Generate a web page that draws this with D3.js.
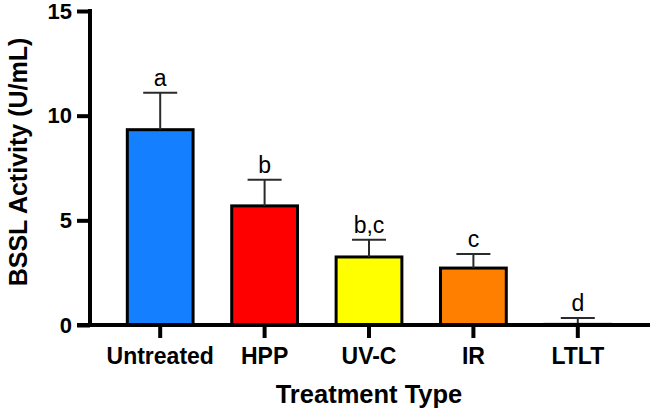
<!DOCTYPE html>
<html><head><meta charset="utf-8">
<script src="https://cdn.jsdelivr.net/npm/d3@7"></script>
<style>
html,body{margin:0;padding:0;background:#fff;}
svg{display:block;font-family:"Liberation Sans",Arial,Helvetica,sans-serif;}
</style></head>
<body>
<svg id="c" width="656" height="414"></svg>
<script>
const categories = ["Untreated", "HPP", "UV-C", "IR", "LTLT"];
const means = [9.33, 5.69, 3.25, 2.72, 0.03];
const errors = [1.77, 1.25, 0.82, 0.67, 0.30];
const letters = ["a", "b", "b,c", "c", "d"];
const colors = ["#1580ff", "#ff0000", "#ffff00", "#ff8000", "#ffffff"];
const yTicks = [0, 5, 10, 15];

const svg = d3.select("#c");
const axisX = 90, baseY = 325, topY = 11;

const y = d3.scaleLinear().domain([0, 15]).range([baseY, topY]);
const x = d3.scaleBand().domain(categories).range([108, 630]).paddingInner(0.37).paddingOuter(0.185);

// bars
const g = svg.append("g");
g.selectAll("rect.bar").data(categories).join("rect")
  .attr("class", "bar")
  .attr("x", d => x(d))
  .attr("width", x.bandwidth())
  .attr("y", (d, i) => y(means[i]))
  .attr("height", (d, i) => y(0) - y(means[i]))
  .attr("fill", (d, i) => colors[i])
  .attr("stroke", "#000")
  .attr("stroke-width", 3);

// error bars
const capW = 34;
categories.forEach((c, i) => {
  const cx = x(c) + x.bandwidth() / 2;
  g.append("line").attr("x1", cx).attr("x2", cx)
    .attr("y1", y(means[i])).attr("y2", y(means[i] + errors[i]))
    .attr("stroke", "#2a2a2a").attr("stroke-width", 2);
  g.append("line").attr("x1", cx - capW / 2).attr("x2", cx + capW / 2)
    .attr("y1", y(means[i] + errors[i])).attr("y2", y(means[i] + errors[i]))
    .attr("stroke", "#2a2a2a").attr("stroke-width", 2);
  g.append("text").attr("x", cx).attr("y", y(means[i] + errors[i]) - 7)
    .attr("text-anchor", "middle").attr("font-size", 23).attr("fill", "#000")
    .text(letters[i]);
});

// y axis
const ya = svg.append("g").attr("transform", `translate(${axisX},0)`)
  .call(d3.axisLeft(y).tickValues(yTicks).tickSize(13).tickSizeOuter(0).tickPadding(5));
ya.select(".domain").attr("stroke", "#000").attr("stroke-width", 4)
  .attr("d", `M0,${topY - 2}V${baseY}`);
ya.selectAll(".tick line").attr("stroke", "#000").attr("stroke-width", 4);
ya.selectAll(".tick text").attr("font-size", 22).attr("font-weight", "bold")
  .attr("fill", "#000").attr("font-family", "Liberation Sans, Arial, sans-serif");

// x axis
const xa = svg.append("g").attr("transform", `translate(0,${baseY})`)
  .call(d3.axisBottom(x).tickSize(13).tickSizeOuter(0).tickPadding(10));
xa.select(".domain").attr("stroke", "#000").attr("stroke-width", 4)
  .attr("d", `M${axisX - 13},0H650`);
xa.selectAll(".tick line").attr("stroke", "#000").attr("stroke-width", 4);
xa.selectAll(".tick text").attr("font-size", 23).attr("font-weight", "bold")
  .attr("fill", "#000").attr("font-family", "Liberation Sans, Arial, sans-serif");

// titles
svg.append("text").attr("x", 369).attr("y", 403).attr("text-anchor", "middle")
  .attr("font-size", 25.5).attr("font-weight", "bold").text("Treatment Type");
svg.append("text").attr("transform", "translate(27,162) rotate(-90)")
  .attr("text-anchor", "middle")
  .attr("font-size", 25).attr("font-weight", "bold").text("BSSL Activity (U/mL)");
</script>
</body></html>
